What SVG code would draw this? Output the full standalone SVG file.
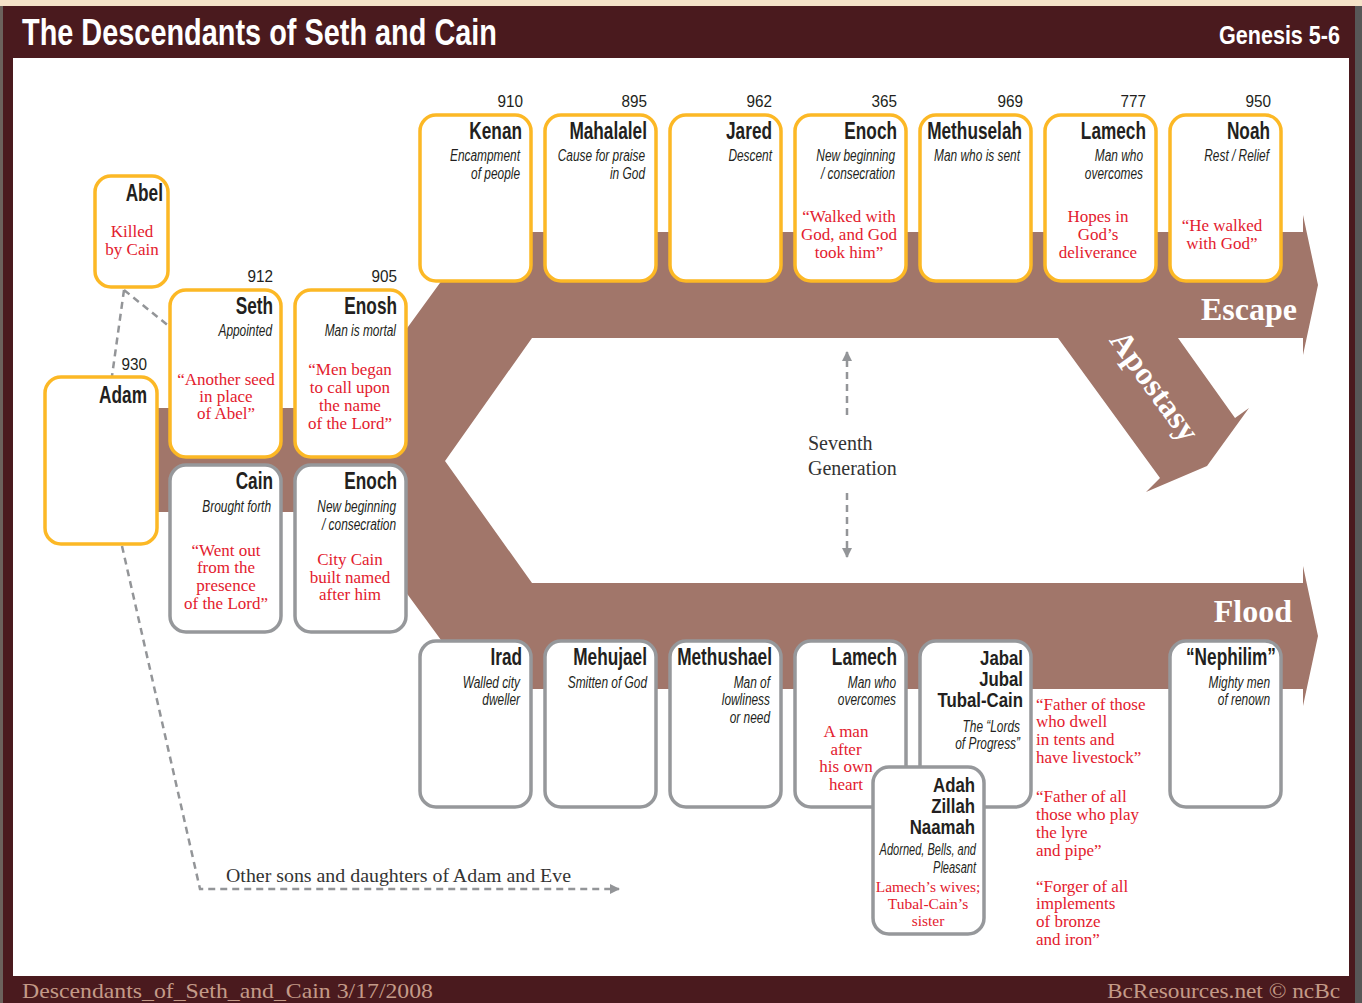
<svg xmlns="http://www.w3.org/2000/svg" width="1362" height="1003" viewBox="0 0 1362 1003">
<style>
.yb{fill:#fff;stroke:#fcb825;stroke-width:3.5}
.gb{fill:#fff;stroke:#96989b;stroke-width:3.5}
.nm{font-family:"Liberation Sans",Arial,sans-serif;font-weight:bold;font-size:23px;fill:#231f20;text-anchor:end}
.nm2{font-family:"Liberation Sans",Arial,sans-serif;font-weight:bold;font-size:21px;fill:#231f20;text-anchor:end}
.it{font-family:"Liberation Sans",Arial,sans-serif;font-style:italic;font-size:17px;fill:#231f20;text-anchor:end}
.nu{font-family:"Liberation Sans",Arial,sans-serif;font-size:17px;fill:#231f20;text-anchor:end}
.rd{font-family:"Liberation Serif","Times New Roman",serif;font-size:17px;fill:#e3202e;text-anchor:middle}
.rd2{font-family:"Liberation Serif","Times New Roman",serif;font-size:15.5px;fill:#e3202e;text-anchor:middle}
.rl{font-family:"Liberation Serif","Times New Roman",serif;font-size:17px;fill:#e3202e;text-anchor:start}
.dash{fill:none;stroke:#939598;stroke-width:2.5;stroke-dasharray:7 5}
.band{fill:#a1766a}
.wl{font-family:"Liberation Serif","Times New Roman",serif;font-weight:bold;font-size:32px;fill:#fff}
.sg{font-family:"Liberation Serif","Times New Roman",serif;font-size:20px;fill:#333}
.sg2{font-family:"Liberation Serif","Times New Roman",serif;font-size:19px;fill:#333}
</style>
<defs>
<marker id="ah" viewBox="0 0 10 10" refX="9" refY="5" markerWidth="10" markerHeight="10" markerUnits="userSpaceOnUse" orient="auto">
<path d="M0,0 L10,5 L0,10 z" fill="#939598"/>
</marker>
</defs>

<!-- frame -->
<rect x="0" y="0" width="1362" height="1003" fill="#4a1a1e"/>
<rect x="0" y="0" width="1362" height="6" fill="#f5e2c8"/>
<rect x="0" y="6" width="3" height="997" fill="#6b625c"/>
<rect x="1355" y="6" width="7" height="997" fill="#575757"/>
<rect x="13" y="58" width="1336" height="918" fill="#fff"/>
<text x="22" y="45" font-family="'Liberation Sans',Arial,sans-serif" font-weight="bold" font-size="36" fill="#fff" textLength="475" lengthAdjust="spacingAndGlyphs">The Descendants of Seth and Cain</text>
<text x="1219" y="44" font-family="'Liberation Sans',Arial,sans-serif" font-weight="bold" font-size="25" fill="#fff" textLength="121" lengthAdjust="spacingAndGlyphs">Genesis 5-6</text>
<text x="22" y="998" font-family="'Liberation Serif','Times New Roman',serif" font-size="22" fill="#c49a88" textLength="411" lengthAdjust="spacingAndGlyphs">Descendants_of_Seth_and_Cain 3/17/2008</text>
<text x="1107" y="998" font-family="'Liberation Serif','Times New Roman',serif" font-size="22" fill="#c49a88" textLength="233" lengthAdjust="spacingAndGlyphs">BcResources.net © ncBc</text>

<!-- brown bands -->
<g id="bands">
<polygon class="band" points="150,408 349,408 477,232 1303,232 1303,215 1318,285 1303,355 1303,338 532,338 445,461 532,583 1303,583 1303,566 1318,636 1303,706 1303,689 477,689 347,512 150,512"/>
<polygon class="band" points="1058,338 1178,338 1235,418 1249,408 1207,466 1146,492 1160,478"/>
<text class="wl" x="1297" y="320" text-anchor="end">Escape</text>
<text class="wl" x="1292" y="622" text-anchor="end">Flood</text>
<text class="wl" text-anchor="middle" transform="translate(1146,392) rotate(54)" textLength="128" lengthAdjust="spacingAndGlyphs">Apostasy</text>
</g>

<!-- connectors -->
<g id="connectors">
<path class="dash" d="M124,290 L112,376"/>
<path class="dash" d="M124,290 L170,327"/>
<path class="dash" d="M122,546 L200,889 L619,889" marker-end="url(#ah)"/>
<path class="dash" d="M847,415 L847,352" marker-end="url(#ah)"/>
<path class="dash" d="M847,493 L847,557" marker-end="url(#ah)"/>
</g>

<g id="seventh-generation">
<text class="sg" x="808" y="450">Seventh</text>
<text class="sg" x="808" y="475">Generation</text>
</g>
<g id="other-sons">
<text class="sg2" x="226" y="882" textLength="345" lengthAdjust="spacingAndGlyphs">Other sons and daughters of Adam and Eve</text>
</g>

<!-- left nodes -->
<g id="abel">
<rect class="yb" x="95" y="176" width="73" height="111" rx="16"/>
<text class="nm" transform="translate(163,0) scale(0.75,1)" y="201">Abel</text>
<text class="rd"><tspan x="132" y="237">Killed</tspan><tspan x="132" y="255">by Cain</tspan></text>
</g>
<g id="adam">
<rect class="yb" x="45" y="377" width="112" height="167" rx="16"/>
<text class="nu" transform="translate(147,0) scale(0.9,1)" y="370">930</text>
<text class="nm" transform="translate(147,0) scale(0.75,1)" y="403">Adam</text>
</g>
<g id="seth">
<rect class="yb" x="170" y="290" width="111" height="167" rx="16"/>
<text class="nu" transform="translate(273,0) scale(0.9,1)" y="282">912</text>
<text class="nm" transform="translate(273,0) scale(0.75,1)" y="314">Seth</text>
<text class="it" transform="translate(272,0) scale(0.7,1)" y="336">Appointed</text>
<text class="rd"><tspan x="226" y="385">“Another seed</tspan><tspan x="226" y="402">in place</tspan><tspan x="226" y="419">of Abel”</tspan></text>
</g>
<g id="enosh">
<rect class="yb" x="295" y="290" width="111" height="167" rx="16"/>
<text class="nu" transform="translate(397,0) scale(0.9,1)" y="282">905</text>
<text class="nm" transform="translate(397,0) scale(0.75,1)" y="314">Enosh</text>
<text class="it" transform="translate(396,0) scale(0.7,1)" y="336">Man is mortal</text>
<text class="rd"><tspan x="350" y="375">“Men began</tspan><tspan x="350" y="393">to call upon</tspan><tspan x="350" y="411">the name</tspan><tspan x="350" y="429">of the Lord”</tspan></text>
</g>
<g id="cain">
<rect class="gb" x="170" y="465" width="111" height="167" rx="16"/>
<text class="nm" transform="translate(273,0) scale(0.75,1)" y="489">Cain</text>
<text class="it" transform="translate(271,0) scale(0.7,1)" y="512">Brought forth</text>
<text class="rd"><tspan x="226" y="556">“Went out</tspan><tspan x="226" y="573">from the</tspan><tspan x="226" y="591">presence</tspan><tspan x="226" y="609">of the Lord”</tspan></text>
</g>
<g id="enoch-cain">
<rect class="gb" x="295" y="465" width="111" height="167" rx="16"/>
<text class="nm" transform="translate(397,0) scale(0.75,1)" y="489">Enoch</text>
<text class="it" transform="translate(396,0) scale(0.7,1)"><tspan x="0" y="512">New beginning</tspan><tspan x="0" y="530">/ consecration</tspan></text>
<text class="rd"><tspan x="350" y="565">City Cain</tspan><tspan x="350" y="583">built named</tspan><tspan x="350" y="600">after him</tspan></text>
</g>

<!-- top row: line of Seth -->
<g id="kenan">
<rect class="yb" x="420" y="115" width="111" height="166" rx="16"/>
<text class="nu" transform="translate(523,0) scale(0.9,1)" y="107">910</text>
<text class="nm" transform="translate(522,0) scale(0.75,1)" y="139">Kenan</text>
<text class="it" transform="translate(520,0) scale(0.7,1)"><tspan x="0" y="161">Encampment</tspan><tspan x="0" y="179">of people</tspan></text>
</g>
<g id="mahalalel">
<rect class="yb" x="545" y="115" width="111" height="166" rx="16"/>
<text class="nu" transform="translate(647,0) scale(0.9,1)" y="107">895</text>
<text class="nm" transform="translate(647,0) scale(0.75,1)" y="139">Mahalalel</text>
<text class="it" transform="translate(645,0) scale(0.7,1)"><tspan x="0" y="161">Cause for praise</tspan><tspan x="0" y="179">in God</tspan></text>
</g>
<g id="jared">
<rect class="yb" x="670" y="115" width="111" height="166" rx="16"/>
<text class="nu" transform="translate(772,0) scale(0.9,1)" y="107">962</text>
<text class="nm" transform="translate(772,0) scale(0.75,1)" y="139">Jared</text>
<text class="it" transform="translate(772,0) scale(0.7,1)" y="161">Descent</text>
</g>
<g id="enoch-seth">
<rect class="yb" x="795" y="115" width="111" height="166" rx="16"/>
<text class="nu" transform="translate(897,0) scale(0.9,1)" y="107">365</text>
<text class="nm" transform="translate(897,0) scale(0.75,1)" y="139">Enoch</text>
<text class="it" transform="translate(895,0) scale(0.7,1)"><tspan x="0" y="161">New beginning</tspan><tspan x="0" y="179">/ consecration</tspan></text>
<text class="rd"><tspan x="849" y="222">“Walked with</tspan><tspan x="849" y="240">God, and God</tspan><tspan x="849" y="258">took him”</tspan></text>
</g>
<g id="methuselah">
<rect class="yb" x="920" y="115" width="111" height="166" rx="16"/>
<text class="nu" transform="translate(1023,0) scale(0.9,1)" y="107">969</text>
<text class="nm" transform="translate(1022,0) scale(0.75,1)" y="139">Methuselah</text>
<text class="it" transform="translate(1020,0) scale(0.7,1)" y="161">Man who is sent</text>
</g>
<g id="lamech-seth">
<rect class="yb" x="1045" y="115" width="111" height="166" rx="16"/>
<text class="nu" transform="translate(1146,0) scale(0.9,1)" y="107">777</text>
<text class="nm" transform="translate(1146,0) scale(0.75,1)" y="139">Lamech</text>
<text class="it" transform="translate(1143,0) scale(0.7,1)"><tspan x="0" y="161">Man who</tspan><tspan x="0" y="179">overcomes</tspan></text>
<text class="rd"><tspan x="1098" y="222">Hopes in</tspan><tspan x="1098" y="240">God’s</tspan><tspan x="1098" y="258">deliverance</tspan></text>
</g>
<g id="noah">
<rect class="yb" x="1170" y="115" width="111" height="166" rx="16"/>
<text class="nu" transform="translate(1271,0) scale(0.9,1)" y="107">950</text>
<text class="nm" transform="translate(1270,0) scale(0.75,1)" y="139">Noah</text>
<text class="it" transform="translate(1269,0) scale(0.7,1)" y="161">Rest / Relief</text>
<text class="rd"><tspan x="1222" y="231">“He walked</tspan><tspan x="1222" y="249">with God”</tspan></text>
</g>

<!-- bottom row: line of Cain -->
<g id="irad">
<rect class="gb" x="420" y="641" width="111" height="166" rx="16"/>
<text class="nm" transform="translate(522,0) scale(0.75,1)" y="665">Irad</text>
<text class="it" transform="translate(520,0) scale(0.7,1)"><tspan x="0" y="688">Walled city</tspan><tspan x="0" y="705">dweller</tspan></text>
</g>
<g id="mehujael">
<rect class="gb" x="545" y="641" width="111" height="166" rx="16"/>
<text class="nm" transform="translate(647,0) scale(0.75,1)" y="665">Mehujael</text>
<text class="it" transform="translate(647,0) scale(0.7,1)" y="688">Smitten of God</text>
</g>
<g id="methushael">
<rect class="gb" x="670" y="641" width="111" height="166" rx="16"/>
<text class="nm" transform="translate(772,0) scale(0.75,1)" y="665">Methushael</text>
<text class="it" transform="translate(770,0) scale(0.7,1)"><tspan x="0" y="688">Man of</tspan><tspan x="0" y="705">lowliness</tspan><tspan x="0" y="723">or need</tspan></text>
</g>
<g id="lamech-cain">
<rect class="gb" x="795" y="641" width="111" height="166" rx="16"/>
<text class="nm" transform="translate(897,0) scale(0.75,1)" y="665">Lamech</text>
<text class="it" transform="translate(896,0) scale(0.7,1)"><tspan x="0" y="688">Man who</tspan><tspan x="0" y="705">overcomes</tspan></text>
<text class="rd"><tspan x="846" y="737">A man</tspan><tspan x="846" y="755">after</tspan><tspan x="846" y="772">his own</tspan><tspan x="846" y="790">heart</tspan></text>
</g>
<g id="jabal-jubal-tubalcain">
<rect class="gb" x="920" y="641" width="111" height="166" rx="16"/>
<text class="nm2" transform="translate(1023,0) scale(0.8,1)"><tspan x="0" y="665">Jabal</tspan><tspan x="0" y="686">Jubal</tspan><tspan x="0" y="707">Tubal-Cain</tspan></text>
<text class="it" transform="translate(1020,0) scale(0.7,1)"><tspan x="0" y="732">The “Lords</tspan><tspan x="0" y="749">of Progress”</tspan></text>
</g>
<g id="sons-notes">
<text class="rl"><tspan x="1036" y="710">“Father of those</tspan><tspan x="1036" y="727">who dwell</tspan><tspan x="1036" y="745">in tents and</tspan><tspan x="1036" y="763">have livestock”</tspan></text>
<text class="rl"><tspan x="1036" y="802">“Father of all</tspan><tspan x="1036" y="820">those who play</tspan><tspan x="1036" y="838">the lyre</tspan><tspan x="1036" y="856">and pipe”</tspan></text>
<text class="rl"><tspan x="1036" y="892">“Forger of all</tspan><tspan x="1036" y="909">implements</tspan><tspan x="1036" y="927">of bronze</tspan><tspan x="1036" y="945">and iron”</tspan></text>
</g>
<g id="adah-zillah-naamah">
<rect class="gb" x="873" y="767" width="111" height="167" rx="16"/>
<text class="nm2" transform="translate(975,0) scale(0.8,1)"><tspan x="0" y="792">Adah</tspan><tspan x="0" y="813">Zillah</tspan><tspan x="0" y="834">Naamah</tspan></text>
<text class="it" transform="translate(976,0) scale(0.65,1)"><tspan x="0" y="855">Adorned, Bells, and</tspan><tspan x="0" y="873">Pleasant</tspan></text>
<text class="rd2"><tspan x="928" y="892">Lamech’s wives;</tspan><tspan x="928" y="909">Tubal-Cain’s</tspan><tspan x="928" y="926">sister</tspan></text>
</g>
<g id="nephilim">
<rect class="gb" x="1170" y="641" width="111" height="166" rx="16"/>
<text class="nm" transform="translate(1276,0) scale(0.75,1)" y="665">“Nephilim”</text>
<text class="it" transform="translate(1270,0) scale(0.7,1)"><tspan x="0" y="688">Mighty men</tspan><tspan x="0" y="705">of renown</tspan></text>
</g>
</svg>
